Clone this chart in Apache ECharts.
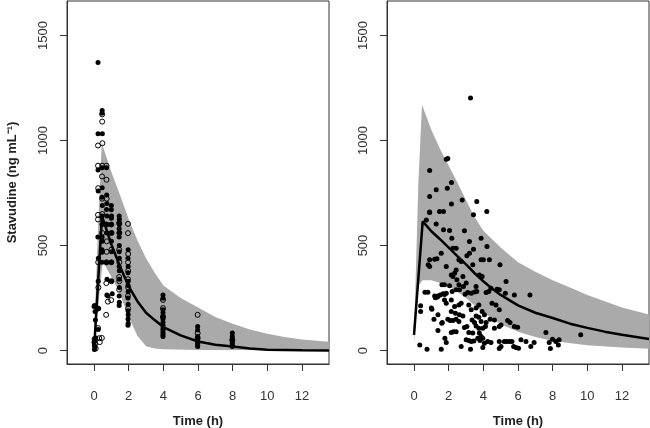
<!DOCTYPE html>
<html><head><meta charset="utf-8">
<script src="https://cdn.jsdelivr.net/npm/echarts@6/dist/echarts.min.js"></script>
<style>html,body{margin:0;padding:0;background:#fff}#c{width:650px;height:428px}</style>
</head><body><div id="c"></div>
<script>
// ---- data ----
const xTicks = [0, 2, 4, 6, 8, 10, 12];
const yTicks = [0, 500, 1000, 1500];
const xLabel = 'Time (h)';
const yLabel = 'Stavudine (ng mL\u207B\u00B9)';

const leftUpper = [[0,60],[0.23,575],[0.45,995],[0.5,975],[1,850],[1.5,740],[2,625],[2.5,525],[3,440],[3.5,370],[4,310],[5,250],[6,205],[7,160],[8,128],[9,100],[10,80],[11,65],[12,53],[13.56,42]];
const leftLower = [[0,0],[0.25,220],[0.5,420],[0.67,400],[1,350],[1.4,289],[2,160],[2.5,70],[3,20],[3.5,10],[4,6],[6,3],[13.56,2]];
const leftMedian = [[0,0],[0.46,640],[1,505],[1.5,400],[2,305],[2.5,235],[3,180],[3.5,145],[4,112],[5,72],[6,43],[7,28],[8,19],[9,10],[10,4],[12,1],[13.56,0]];

const leftFilled = [
[0,210],[0.03,215],[0.06,186],[0.03,50],[0,40],[0.02,25],[0.05,15],[0.02,5],[0.1,60],[0.08,146],
[0.23,1371],[0.23,1032],[0.23,860],[0.24,760],[0.22,540],[0.25,440],[0.24,330],[0.25,200],[0.24,100],
[0.47,1143],[0.46,1130],[0.48,1032],[0.46,870],[0.47,775],[0.46,730],[0.48,690],[0.47,640],[0.46,600],[0.47,540],[0.48,520],[0.46,480],[0.47,470],[0.46,420],
[0.72,870],[0.73,740],[0.74,700],[0.72,672],[0.75,640],[0.73,600],[0.74,560],[0.72,420],[0.75,340],[0.74,265],[0.8,260],
[1.0,690],[1.0,670],[1.01,640],[1.0,630],[0.99,600],[1.0,560],[1.0,520],[1.01,470],[1.0,420],[1.0,330],[1.05,270],
[1.45,640],[1.46,625],[1.45,610],[1.46,600],[1.45,580],[1.46,560],[1.45,540],[1.46,500],[1.45,470],[1.46,440],[1.45,400],[1.46,380],[1.45,340],[1.46,300],[1.45,260],[1.46,230],[1.45,215],
[1.97,480],[1.96,440],[1.97,400],[1.96,370],[1.97,330],[1.96,310],[1.97,280],[1.96,250],[1.97,220],[1.96,190],[1.97,170],[1.96,150],[1.97,130],[1.96,120],
[3.98,265],[3.98,249],[3.98,194],[3.98,180],[3.98,165],[3.98,150],[3.98,135],[3.98,120],[3.98,105],[3.98,95],[3.98,85],[3.98,75],[3.98,67],
[5.98,114],[5.98,98],[5.98,67],[5.98,55],[5.98,45],[5.98,35],[5.98,25],[5.98,19],
[7.98,83],[7.98,67],[7.98,55],[7.98,45],[7.98,35],[7.98,25],[7.98,19]
];
const leftOpen = [
[0.03,55],[0.06,30],[0.1,10],
[0.23,976],[0.23,880],[0.24,773],[0.23,646],[0.23,624],[0.24,420],[0.25,300],[0.24,200],[0.23,107],[0.3,59],[0.33,40],
[0.47,1124],[0.47,1090],[0.48,987],[0.47,880],[0.46,829],[0.47,723],[0.48,650],[0.47,560],[0.46,470],[0.45,60],
[0.72,880],[0.72,813],[0.73,723],[0.72,600],[0.74,520],[0.73,470],[0.72,420],[0.71,321],[0.8,233],[0.7,170],
[1.0,600],[1.01,560],[1.0,480],[1.0,420],[1.0,330],[0.99,240],
[1.45,606],[1.46,560],[1.45,480],[1.46,420],[1.45,350],[1.46,330],[1.45,290],
[1.96,603],[1.96,559],[1.97,460],[1.96,420],[1.97,380],[1.96,340],[1.97,300],[1.96,260],[1.97,200],
[3.98,241],[3.98,202],[3.98,160],
[5.98,170],[5.98,83],[5.98,60],
[7.98,50]
];

const rightUpper = [[0,60],[0.25,800],[0.46,1170],[1,1050],[1.5,960],[2,880],[2.5,800],[3,715],[3.5,635],[4,570],[5,490],[6,420],[7,375],[8,335],[9,300],[10,265],[11,235],[12,205],[13.56,172]];
const rightLower = [[0,35],[0.25,310],[0.5,335],[1,335],[1.5,322],[2,305],[2.5,280],[3,250],[3.5,215],[4,180],[5,125],[6,90],[7,65],[8,45],[10,25],[12,14],[13.56,9]];
const rightMedian = [[0,75],[0.5,615],[1,568],[1.5,530],[2,490],[2.5,450],[3,410],[3.5,368],[4,330],[4.5,295],[5,265],[6,215],[7,180],[8,155],[9,128],[10,108],[11,90],[12,75],[13.56,55]];

const rightPoints = [
[3.26,1202],[1.86,911],[1.95,914],[0.90,857],[2.16,800],[1.92,773],[1.28,765],[2.78,717],[3.62,710],[0.90,733],
[2.16,698],[4.20,662],[3.43,646],[1.47,662],[1.70,662],[0.90,659],[0.71,622],[1.28,603],[1.70,575],[2.91,570],
[2.05,571],[2.18,535],[3.87,535],[1.57,463],[2.43,487],[2.24,487],[3.20,463],[3.43,482],[4.21,495],[3.20,519],
[3.05,451],[0.90,432],[0.90,400],[1.19,435],[1.32,437],[1.86,400],[2.59,432],[2.72,424],[3.87,432],[4.00,432],
[4.35,432],[4.96,408],[3.39,408],[2.15,360],[2.34,368],[2.43,384],[2.24,352],[2.82,352],[3.77,360],[3.93,352],
[5.31,329],[1.61,313],[1.76,313],[2.05,308],[2.47,337],[2.59,313],[2.85,305],[3.01,321],[3.58,305],[4.44,297],
[4.79,292],[4.92,289],[0.63,278],[0.80,278],[1.19,260],[1.38,260],[1.51,265],[1.67,270],[1.76,267],[1.86,273],
[2.20,281],[2.43,289],[2.62,289],[2.95,268],[3.10,276],[3.30,273],[3.49,279],[3.62,281],[4.16,276],[4.31,281],
[5.27,273],[5.79,265],[6.69,265],[0.38,213],[0.38,186],[1.03,197],[1.76,241],[1.86,225],[2.15,241],[2.34,210],
[2.59,217],[2.72,225],[3.16,217],[3.30,194],[3.58,202],[3.74,217],[3.93,186],[4.06,170],[4.50,225],[4.73,217],
[4.92,194],[1.38,170],[2.15,186],[2.39,178],[2.62,170],[2.82,165],[3.58,165],[3.74,159],[1.15,149],[1.95,149],
[2.09,143],[2.24,143],[2.43,149],[2.59,138],[3.35,146],[3.49,133],[3.87,138],[4.16,133],[4.39,149],[4.64,146],
[5.40,143],[5.54,133],[1.63,133],[1.38,95],[2.15,86],[2.28,90],[2.43,90],[2.91,110],[3.05,114],[3.16,86],
[3.39,83],[3.58,117],[3.74,106],[3.97,106],[4.12,114],[3.77,83],[3.87,67],[3.97,59],[4.64,106],[4.92,114],
[5.02,122],[5.79,114],[5.98,111],[1.78,59],[1.86,38],[3.01,51],[3.16,48],[3.30,43],[3.45,46],[3.68,59],
[3.81,48],[4.06,35],[4.25,43],[4.44,38],[4.92,43],[5.02,19],[5.21,43],[5.34,43],[5.50,43],[5.65,43],
[5.75,19],[5.88,14],[6.03,11],[6.17,51],[6.46,43],[6.74,19],[6.93,38],[7.61,86],[7.80,38],[7.99,54],
[8.18,43],[8.37,51],[8.33,27],[7.87,10],[9.62,75],[0.33,27],[0.75,6],[1.57,6],[2.72,19],[3.26,6],
[3.97,14],[4.92,10],[1.0,202],[1.23,251],[1.35,255],[0.82,408],[0.9,657],[1.6,130]
];

// ---- chart ----
const FONT = 'Liberation Sans, Arial, sans-serif';
function mkX(i) {
  return {
    type: 'value', gridIndex: i, min: -1.56, max: 13.56,
    name: xLabel, nameLocation: 'middle', nameGap: 51,
    nameTextStyle: { fontFamily: FONT, fontSize: 13, fontWeight: 'bold', color: '#222' },
    axisLine: { show: true, onZero: false, lineStyle: { color: '#333', width: 1 } },
    axisTick: { show: true, length: 7, inside: false, customValues: xTicks, lineStyle: { color: '#333', width: 1 } },
    axisLabel: { customValues: xTicks, margin: 26, fontFamily: FONT, fontSize: 13, color: '#333',
      formatter: v => String(v) },
    splitLine: { show: false }
  };
}
function mkY(i, withName) {
  const o = {
    type: 'value', gridIndex: i, min: -64, max: 1664,
    axisLine: { show: true, onZero: false, lineStyle: { color: '#333', width: 1 } },
    axisTick: { show: true, length: 7, customValues: yTicks, lineStyle: { color: '#333', width: 1 } },
    axisLabel: { customValues: yTicks, rotate: 90, margin: 17, fontFamily: FONT, fontSize: 13, color: '#333',
      formatter: v => String(v) },
    splitLine: { show: false }
  };
  if (withName) {
    o.name = yLabel; o.nameLocation = 'middle'; o.nameGap = 48;
    o.nameTextStyle = { fontFamily: FONT, fontSize: 13, fontWeight: 'bold', color: '#222' };
  }
  return o;
}
function band(upper, lower, i) {
  const pts = upper.concat(lower.slice().reverse());
  return {
    type: 'custom', xAxisIndex: i, yAxisIndex: i, z: 1, silent: true, clip: true,
    data: [[0, 0]],
    renderItem: function (params, api) {
      return { type: 'polygon', shape: { points: pts.map(p => api.coord(p)) }, style: { fill: '#aaaaaa', stroke: null } };
    }
  };
}
function line(data, i) {
  return { type: 'line', xAxisIndex: i, yAxisIndex: i, data: data, showSymbol: false, symbol: 'none', z: 4,
    lineStyle: { color: '#000', width: 2.5 }, silent: true, animation: false };
}
function filled(data, i) {
  return { type: 'scatter', xAxisIndex: i, yAxisIndex: i, data: data, symbol: 'circle', symbolSize: 5, z: 3,
    itemStyle: { color: '#000', opacity: 1 }, silent: true };
}
function open(data, i) {
  return { type: 'scatter', xAxisIndex: i, yAxisIndex: i, data: data, symbol: 'circle', symbolSize: 5, z: 3,
    itemStyle: { color: 'none', borderColor: '#000', borderWidth: 1, opacity: 1 }, silent: true };
}

const chart = echarts.init(document.getElementById('c'), null, { renderer: 'canvas' });
chart.setOption({
  animation: false,
  backgroundColor: '#fff',
  grid: [
    { left: 67, top: 1, width: 262, height: 363, show: true, borderColor: '#333', borderWidth: 1, backgroundColor: 'transparent', outerBoundsMode: 'none', containLabel: false },
    { left: 387, top: 1, width: 262, height: 363, show: true, borderColor: '#333', borderWidth: 1, backgroundColor: 'transparent', outerBoundsMode: 'none', containLabel: false }
  ],
  xAxis: [mkX(0), mkX(1)],
  yAxis: [mkY(0, true), mkY(1, false)],
  series: [
    band(leftUpper, leftLower, 0),
    filled(leftFilled, 0),
    open(leftOpen, 0),
    line(leftMedian, 0),
    band(rightUpper, rightLower, 1),
    filled(rightPoints, 1),
    line(rightMedian, 1)
  ]
});
</script>
</body></html>
